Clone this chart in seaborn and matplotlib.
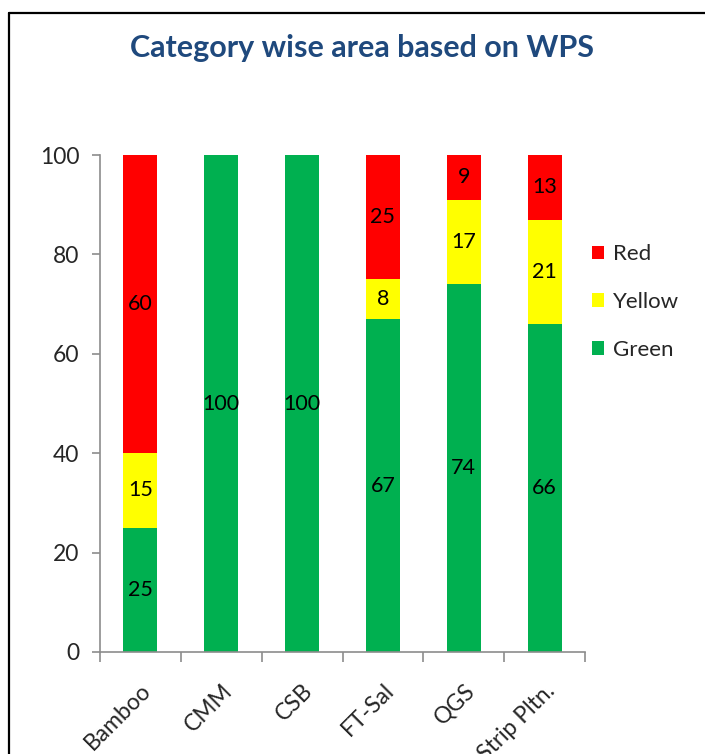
import matplotlib
matplotlib.use("Agg")
import matplotlib.pyplot as plt
import seaborn as sns
import pandas as pd
import numpy as np
from matplotlib.patches import Patch
from matplotlib.lines import Line2D

# chart data
categories = ["Bamboo", "CMM", "CSB", "FT-Sal", "QGS", "Strip Pltn."]
green = [25, 100, 100, 67, 74, 66]
yellow = [15, 0, 0, 8, 17, 21]
red = [60, 0, 0, 25, 9, 13]
series_names = ["Green", "Yellow", "Red"]
series_colors = {"Green": "#00B050", "Yellow": "#FFFF00", "Red": "#FF0000"}

sns.set_style("white")
plt.rcParams["font.family"] = ["Lato", "DejaVu Sans"]

fig = plt.figure(figsize=(7.05, 7.54), dpi=100)
ax = fig.add_axes([100 / 705, 1 - 652 / 754, 485 / 705, 497 / 754])

df = pd.DataFrame({"cat": categories, "Green": green, "Yellow": yellow, "Red": red})
bottom = np.zeros(len(categories))
for name in series_names:
    vals = df[name].to_numpy()
    sns.barplot(data=df, x="cat", y=name, color=series_colors[name], width=0.42,
                bottom=bottom, saturation=1, ax=ax, edgecolor="none", linewidth=0)
    for i, v in enumerate(vals):
        if v > 0:
            ax.text(i, bottom[i] + v / 2, f"{v}", ha="center", va="center",
                    fontsize=15.5, color="black")
    bottom = bottom + vals

ax.set_xlim(-0.5, len(categories) - 0.5)
ax.set_ylim(0, 100)
ax.set_yticks([0, 20, 40, 60, 80, 100])
ax.set_xlabel("")
ax.set_ylabel("")

# spines / ticks in Excel style
for s in ["top", "right"]:
    ax.spines[s].set_visible(False)
for s in ["left", "bottom"]:
    ax.spines[s].set_color("#8C8C8C")
    ax.spines[s].set_linewidth(1.2)
ax.tick_params(axis="y", which="major", length=6, width=1.2, color="#8C8C8C",
               labelsize=16.5, pad=9, left=True)
ax.set_xticks(np.arange(-0.5, len(categories), 1.0), minor=True)
ax.tick_params(axis="x", which="minor", length=7, width=1.2, color="#8C8C8C", bottom=True)
ax.tick_params(axis="x", which="major", length=0, labelsize=16.5, pad=20)
ax.set_xticks(range(len(categories)))
ax.set_xticklabels(categories, rotation=45, ha="right", rotation_mode="anchor")

handles = [Patch(facecolor=series_colors[n], edgecolor="none", label=n) for n in ["Red", "Yellow", "Green"]]
fig.legend(handles=handles, loc="center left", bbox_to_anchor=(592 / 705, 1 - 302 / 754),
           frameon=False, fontsize=16, handlelength=0.55, handleheight=0.55,
           handletextpad=0.4, labelspacing=1.25, borderpad=0, borderaxespad=0)

fig.text(362 / 705, 1 - 48 / 754, "Category wise area based on WPS", ha="center", va="center",
         fontsize=22, fontweight="bold", color="#1F497D")

# chart frame (cropped)
fig.add_artist(Line2D([9 / 705, 9 / 705], [0, 1 - 13 / 754], transform=fig.transFigure,
                      color="black", linewidth=1.6))
fig.add_artist(Line2D([9 / 705, 1], [1 - 13 / 754, 1 - 13 / 754], transform=fig.transFigure,
                      color="black", linewidth=1.6))

fig.savefig("out.png", dpi=100)
